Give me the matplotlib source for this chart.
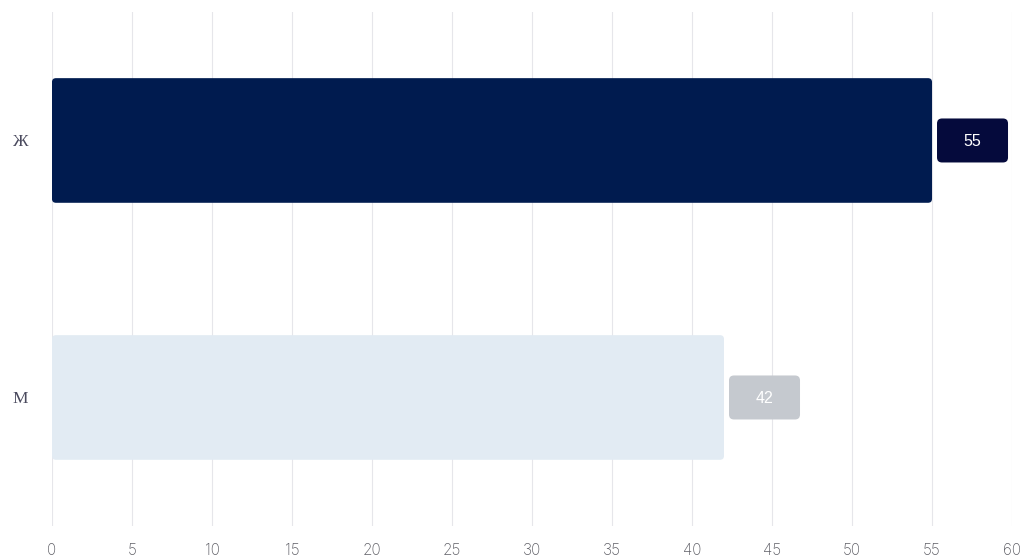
import matplotlib.pyplot as plt
from matplotlib.patches import FancyBboxPatch

# data
categories = ['Ж', 'М']
values = [55, 42]
bar_colors = ['#001b4f', '#e2ebf3']
label_bg = ['#050a3c', '#c5c9cf']
label_fg = ['#ffffff', '#ffffff']
x_ticks = list(range(0, 61, 5))

fig = plt.figure(figsize=(10.21, 5.57), dpi=100)
ax = fig.add_axes([0.0509, 0.0557, 0.9403, 0.9228])

bars = ax.barh(range(len(categories)), values, height=0.485, color=bar_colors)

ax.set_xlim(0, 60)
ax.set_ylim(1.5, -0.5)

# swap plain bars for slightly rounded ones
px_x = 60 / 960.0
px_y = 2.0 / 514.0
for b in bars:
    x0, y0 = b.get_x(), b.get_y()
    w, h = b.get_width(), b.get_height()
    rp = FancyBboxPatch((x0, y0), w, h,
                        boxstyle=f"round,pad=0,rounding_size={4 * px_x}",
                        mutation_aspect=px_y / px_x,
                        facecolor=b.get_facecolor(), edgecolor='none', zorder=2)
    b.set_visible(False)
    ax.add_patch(rp)

# value labels in boxes to the right of the bars
box_w = 71 * px_x
box_h = 44 * px_y
gap = 5 * px_x
for i, v in enumerate(values):
    bx = v + gap
    box = FancyBboxPatch((bx, i - box_h / 2), box_w, box_h,
                         boxstyle=f"round,pad=0,rounding_size={5 * px_x}",
                         mutation_aspect=px_y / px_x,
                         facecolor=label_bg[i], edgecolor='none', zorder=3,
                         clip_on=False)
    ax.add_patch(box)
    ax.text(bx + box_w / 2, i + 0.005, str(v), ha='center', va='center',
            fontsize=11.5, color=label_fg[i], family='Liberation Sans', zorder=4)

ax.set_xticks(x_ticks)
ax.set_xticklabels([str(t) for t in x_ticks], fontsize=11, color='#5f5f66',
                   family='Inter', fontweight='light')
ax.set_yticks(range(len(categories)))
ax.set_yticklabels(categories, fontsize=12.5, color='#4a4a5e', family='Liberation Serif')
ax.tick_params(axis='x', length=0, pad=12)
ax.tick_params(axis='y', length=0, pad=17)

ax.grid(axis='x', color='#e6e6ea', linewidth=0.8)
ax.set_axisbelow(True)
for s in ax.spines.values():
    s.set_visible(False)

fig.savefig('out.png', dpi=100)
